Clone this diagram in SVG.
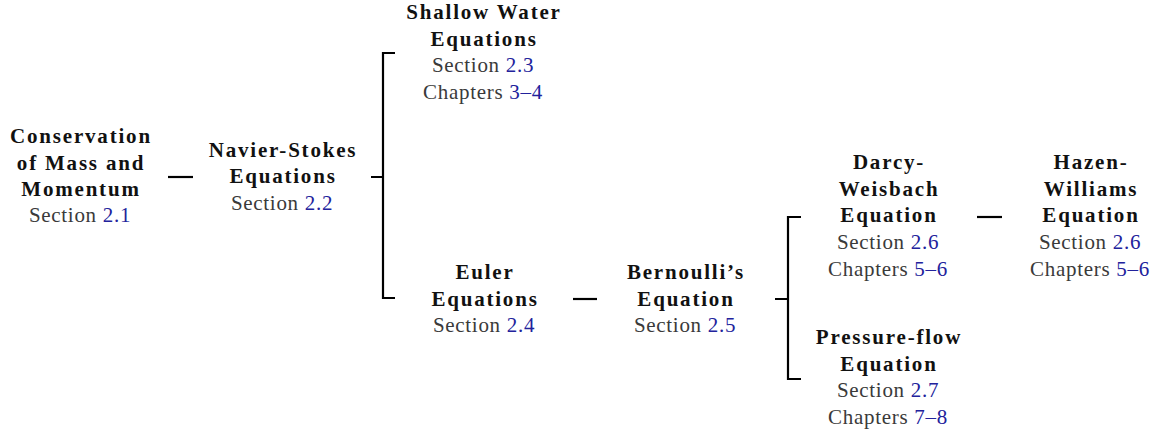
<svg xmlns="http://www.w3.org/2000/svg" width="1161" height="435" viewBox="0 0 1161 435">
<style>
text{font-family:"Liberation Serif","DejaVu Serif",serif;font-size:21px;text-anchor:middle}
.b{font-weight:bold;fill:#111;letter-spacing:1.8px}
.r{fill:#3a3a3a;letter-spacing:0.7px}
.n{fill:#22229c}
.c{fill:none;stroke:#000;stroke-width:2.2;stroke-linecap:butt}
</style>
<rect width="1161" height="435" fill="#fff"/>
<g id="connectors">
<line class="c" x1="168" y1="177" x2="193" y2="177"/>
<path class="c" d="M371,177 H383 M395,53 H383 V298 H395"/>
<line class="c" x1="573" y1="299" x2="597" y2="299"/>
<path class="c" d="M775,299 H788 M801,217 H788 V379 H801"/>
<line class="c" x1="977" y1="217" x2="1002" y2="217"/>
</g>
<g id="conservation">
<text class="b" x="81" y="143">Conservation</text>
<text class="b" x="81" y="170">of Mass and</text>
<text class="b" x="81" y="196">Momentum</text>
<text class="r" x="80" y="222">Section <tspan class="n">2.1</tspan></text>
</g>
<g id="navier-stokes">
<text class="b" x="283" y="157">Navier-Stokes</text>
<text class="b" x="283" y="183">Equations</text>
<text class="r" x="282" y="210">Section <tspan class="n">2.2</tspan></text>
</g>
<g id="shallow-water">
<text class="b" x="484" y="19">Shallow Water</text>
<text class="b" x="484" y="46">Equations</text>
<text class="r" x="483" y="72">Section <tspan class="n">2.3</tspan></text>
<text class="r" x="483" y="99">Chapters <tspan class="n">3–4</tspan></text>
</g>
<g id="euler">
<text class="b" x="485" y="279">Euler</text>
<text class="b" x="485" y="306">Equations</text>
<text class="r" x="484" y="332">Section <tspan class="n">2.4</tspan></text>
</g>
<g id="bernoulli">
<text class="b" x="686" y="279">Bernoulli’s</text>
<text class="b" x="686" y="306">Equation</text>
<text class="r" x="685" y="332">Section <tspan class="n">2.5</tspan></text>
</g>
<g id="darcy-weisbach">
<text class="b" x="889" y="169">Darcy-</text>
<text class="b" x="889" y="196">Weisbach</text>
<text class="b" x="889" y="222">Equation</text>
<text class="r" x="888" y="249">Section <tspan class="n">2.6</tspan></text>
<text class="r" x="888" y="276">Chapters <tspan class="n">5–6</tspan></text>
</g>
<g id="hazen-williams">
<text class="b" x="1091" y="169">Hazen-</text>
<text class="b" x="1091" y="196">Williams</text>
<text class="b" x="1091" y="222">Equation</text>
<text class="r" x="1090" y="249">Section <tspan class="n">2.6</tspan></text>
<text class="r" x="1090" y="276">Chapters <tspan class="n">5–6</tspan></text>
</g>
<g id="pressure-flow">
<text class="b" x="889" y="344">Pressure-flow</text>
<text class="b" x="889" y="371">Equation</text>
<text class="r" x="888" y="397">Section <tspan class="n">2.7</tspan></text>
<text class="r" x="888" y="424">Chapters <tspan class="n">7–8</tspan></text>
</g>
</svg>
